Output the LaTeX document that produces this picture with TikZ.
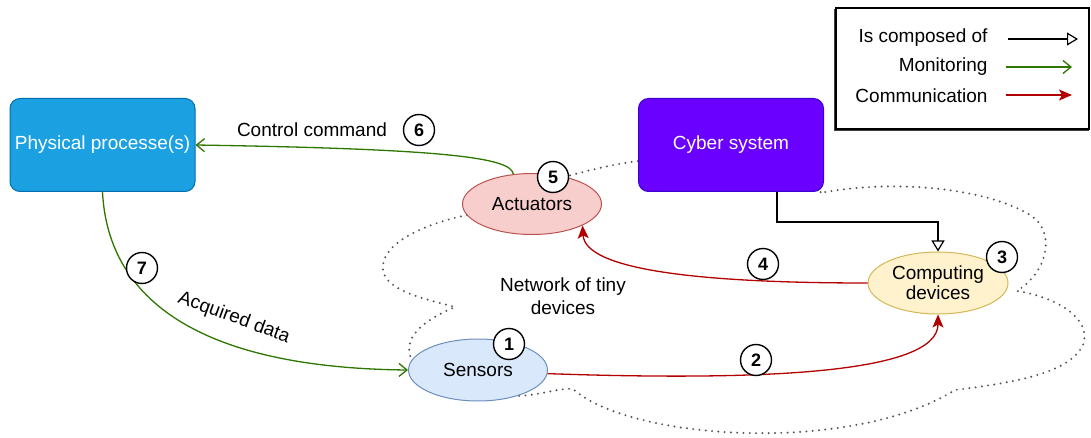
\documentclass[tikz,border=0pt]{standalone}
\usepackage{fontspec}
\setmainfont{Liberation Sans}
\usetikzlibrary{arrows.meta,calc,shapes.geometric}
\definecolor{physfill}{HTML}{1BA1E2}
\definecolor{physline}{HTML}{006EAF}
\definecolor{cybfill}{HTML}{6A00FF}
\definecolor{cybline}{HTML}{3700CC}
\definecolor{actfill}{HTML}{F8CECC}
\definecolor{actline}{HTML}{B85450}
\definecolor{compfill}{HTML}{FFF2CC}
\definecolor{compline}{HTML}{D6B656}
\definecolor{senfill}{HTML}{DAE8FC}
\definecolor{senline}{HTML}{6C8EBF}
\definecolor{mongreen}{HTML}{2D7600}
\definecolor{comred}{HTML}{B20000}
\definecolor{cloudgray}{HTML}{555555}
\tikzset{
  every node/.style={font=\fontsize{19}{23}\selectfont},
  sysbox/.style={draw, line width=1pt, rounded corners=10pt, minimum width=185pt, minimum height=93pt, text=white, inner sep=0pt},
  device/.style={ellipse, draw, line width=1pt, minimum width=139pt, minimum height=61pt, inner sep=0pt, align=center},
  numcirc/.style={circle, draw, line width=1.4pt, fill=white, minimum size=31pt, inner sep=0pt, font=\fontsize{18}{20}\selectfont\bfseries},
  monitor/.style={draw=mongreen, line width=1.3pt, -{Straight Barb[length=8pt,width=13pt,line width=1.3pt]}},
  commun/.style={draw=comred, line width=1.3pt, -{Stealth[length=13pt,width=11pt,inset=3pt]}},
  composed/.style={draw=black, line width=1.2pt, -{Triangle[open,length=11pt,width=13pt,line width=1.2pt]}},
  cloudline/.style={draw=cloudgray, line width=2.2pt, dash pattern=on 0pt off 6.3pt, line cap=round},
}
\begin{document}
\begin{tikzpicture}[x=1pt,y=-1pt]
\useasboundingbox (0,0) rectangle (1091,438);
% cloud (network of tiny devices)
\draw[cloudline] (467,215) .. controls (420,225) and (380,245) .. (383,270)
  .. controls (386,292) and (430,300) .. (455,307)
  .. controls (425,320) and (405,335) .. (410,355)
  .. controls (415,395) and (480,400) .. (530,395)
  .. controls (550,392) and (563,388) .. (573,389)
  .. controls (630,440) and (850,455) .. (955,390)
  .. controls (1020,382) and (1070,372) .. (1083,345)
  .. controls (1092,320) and (1060,298) .. (1017,291)
  .. controls (1050,270) and (1055,230) .. (1030,215)
  .. controls (990,190) and (900,178) .. (820,193)
  -- (822,190) -- (637,161)
  .. controls (610,165) and (590,170) .. (568,176) -- cycle;
% legend
\draw[line width=1.2pt] (836,8) rectangle (1089,129);
\draw[line width=1.6pt, black!75] (834.5,9) -- (834.5,130.5) -- (1089,130.5);
\node[anchor=east] (lg1) at (991,38) {Is composed of};
\node[anchor=east] (lg2) at (991,67) {Monitoring};
\node[anchor=east] (lg3) at (991,96) {Communication};
\coordinate (l1a) at (1008,39); \coordinate (l1b) at (1078,39);
\coordinate (l2a) at (1006,67); \coordinate (l2b) at (1072,67);
\coordinate (l3a) at (1006,95); \coordinate (l3b) at (1072,95);
\draw[composed] (l1a) -- (l1b);
\draw[monitor] (l2a) -- (l2b);
\draw[commun] (l3a) -- (l3b);
% main nodes
\node[sysbox, fill=physfill, draw=physline] (phys) at (102.5,145) {Physical processe(s)};
\node[sysbox, fill=cybfill, draw=cybline] (cyb) at (731,145) {Cyber system};
\node[device, fill=actfill, draw=actline] (act) at (532,204) {Actuators};
\node[device, fill=compfill, draw=compline, minimum width=140pt, minimum height=62pt] (comp) at (938,283) {Computing\\[-3pt]devices};
\node[device, fill=senfill, draw=senline, minimum height=62pt] (sen) at (478,370) {Sensors};
\node[align=center] (net) at (563,296) {Network of tiny\\devices};
% connectors
\draw[monitor] (act.122) .. controls (511,158) and (450,149) .. (phys.east);
\node (lblcc) at (312,130) {Control command};
\draw[monitor] (phys.south) .. controls (108,300) and (200,368) .. (sen.west);
\node[rotate=-20] (lblad) at (234,318) {Acquired data};
\draw[commun] (sen.-3) .. controls (760,381) and (938,374) .. (comp.south);
\draw[commun] (comp.west) .. controls (700,283) and (585,270) .. (act.-23);
\draw[composed] ([xshift=46pt]cyb.south) -- ++(0,30) -| (comp.north);
% number badges
\node[numcirc] (n1) at (509,344) {1};
\node[numcirc] (n2) at (756,360) {2};
\node[numcirc] (n3) at (1002,257) {3};
\node[numcirc] (n4) at (763,264) {4};
\node[numcirc] (n5) at (553,177) {5};
\node[numcirc] (n6) at (419,130) {6};
\node[numcirc] (n7) at (142,268) {7};
\end{tikzpicture}
\end{document}
